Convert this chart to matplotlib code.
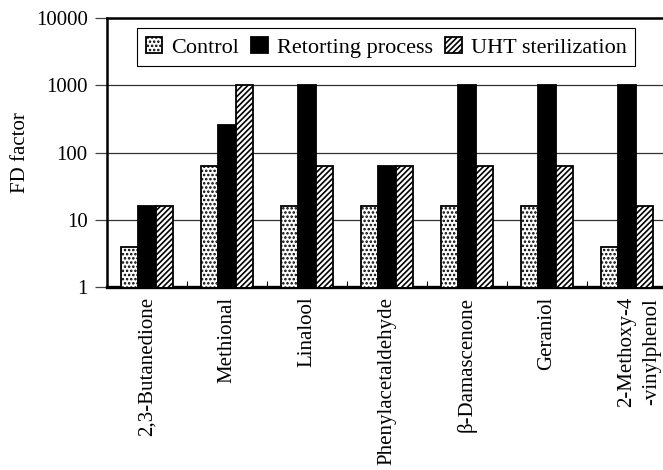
import matplotlib.pyplot as plt
import matplotlib.transforms as mtransforms
import numpy as np

# data
compounds = ['2,3-Butanedione', 'Methional', 'Linalool', 'Phenylacetaldehyde',
             'β-Damascenone', 'Geraniol', '2-Methoxy-4\n-vinylphenol']
control = [4, 64, 16, 16, 16, 16, 4]
retorting = [16, 256, 1024, 64, 1024, 1024, 1024]
uht = [16, 1024, 64, 64, 64, 64, 16]

plt.rcParams['font.family'] = ['Liberation Serif', 'DejaVu Serif']
plt.rcParams['hatch.linewidth'] = 1.2

fig = plt.figure(figsize=(6.63, 4.70), dpi=100)
ax = fig.add_axes([107 / 663, 1 - 287 / 470, 560 / 663, 269 / 470])

x = np.arange(len(compounds))
w = 0.22
ax.bar(x - w, control, w, facecolor='white', edgecolor='black',
       linewidth=1.3, hatch='....', label='Control', zorder=3)
ax.bar(x, retorting, w, facecolor='black', edgecolor='black',
       linewidth=1.3, label='Retorting process', zorder=3)
ax.bar(x + w, uht, w, facecolor='white', edgecolor='black',
       linewidth=1.3, hatch='//////', label='UHT sterilization', zorder=3)

ax.set_yscale('log')
ax.set_ylim(1, 10000)
ax.set_xlim(-0.5, 6.5)
ax.set_yticks([1, 10, 100, 1000, 10000])
ax.set_yticklabels(['1', '10', '100', '1000', '10000'])
ax.minorticks_off()
ax.yaxis.grid(True, color='#333333', linewidth=0.9, zorder=0)

ax.set_xticks(x)
ax.set_xticklabels(compounds, rotation=90, va='top', ha='center')
ax.set_xticks(x[:-1] + 0.5, minor=True)
ax.tick_params(axis='x', which='major', length=0, pad=7, labelsize=15)
ax.tick_params(axis='x', which='minor', length=4, direction='in', width=0.8)
ax.tick_params(axis='y', length=9, width=0.9, color='#444444', labelsize=15, pad=5)

# last label: two lines, wider spacing, sits a bit right of the tick
last = ax.get_xticklabels()[-1]
last.set_linespacing(1.45)
last.set_transform(last.get_transform() +
                   mtransforms.ScaledTranslation(0.12, 0, fig.dpi_scale_trans))

for s in ['left', 'top', 'bottom']:
    ax.spines[s].set_linewidth(1.8)
ax.spines['bottom'].set_linewidth(2.4)
ax.spines['right'].set_visible(False)

ax.set_ylabel('FD factor', fontsize=15, labelpad=4)

leg = ax.legend(loc='upper left', bbox_to_anchor=(0.054, 0.962), ncol=3,
                fontsize=16, fancybox=False, edgecolor='black', framealpha=1,
                handlelength=0.75, handleheight=0.75, handletextpad=0.4,
                columnspacing=0.55, borderpad=0.38, borderaxespad=0)
leg.get_frame().set_linewidth(0.8)

plt.savefig('out.png', dpi=100)
